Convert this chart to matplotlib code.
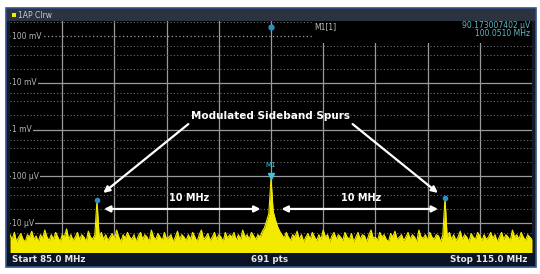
import numpy as np
import matplotlib
matplotlib.use("Agg")
import matplotlib.pyplot as plt
from matplotlib.patches import Rectangle

# %% Data
start_mhz, stop_mhz = 85.0, 115.0

# trace level in dBuV, 241 points across the span
trace_dbuv = [
    15, 13, 16, 12, 14, 15.5, 13, 12, 15, 14, 16.5, 13, 14.5, 12, 15, 13.5, 17, 14, 12.5, 15,
    13, 16, 14, 12, 15, 14, 17.5, 13, 15, 12.5, 14, 16, 13, 15, 14, 12, 16.5, 14, 13, 15,
    29.8,
    14, 16, 13, 15, 12.5, 14, 15.5, 13, 17, 14, 12, 15, 13.5, 16, 14, 13, 15, 12, 14.5,
    16, 13, 15, 14, 12, 17, 14, 13, 15.5, 14, 12.5, 16, 13, 14, 15, 12, 14, 16.5, 13, 15,
    14, 12.5, 15, 13, 16, 14, 12, 15, 17, 13, 14, 15.5, 12.5, 14, 16, 13, 15, 14, 12, 16,
    13.5, 15, 14, 16, 12.5, 15, 13, 17, 14, 15, 13, 16, 14.5, 13, 15, 14,
    16.5, 18, 21, 24, 39.1, 25, 21.5, 18.5, 16.5,
    15, 13.5, 16, 14, 12.5, 15, 14, 16.5, 13, 15, 12, 14, 15.5, 13, 16,
    14, 12.5, 15, 13, 17, 14, 15, 12, 14.5, 16, 13, 15, 14, 12.5, 16, 14, 13, 15.5, 12, 14,
    16, 13, 15, 14.5, 12, 15, 17, 13.5, 14, 12.5, 16, 14, 15, 13, 12, 15.5, 14, 16.5, 13, 14,
    15, 12.5, 14, 16, 13, 15, 14, 12, 17, 14, 13.5, 15, 12.5, 16, 14, 13, 15, 14.5, 12, 15,
    30.7,
    14, 16, 13, 15, 12.5, 14, 16.5, 13, 15, 14, 12, 15.5, 14, 13, 16, 14.5, 12.5, 15, 13, 14,
    16, 13.5, 15, 12, 14, 16, 13, 15, 14, 12.5, 17, 14, 15, 13, 16, 14, 12.5, 15, 14, 13,
]

decade_ticks = [1e-5, 1e-4, 1e-3, 1e-2, 1e-1]
decade_labels = ["10 \u00b5V", "100 \u00b5V", "1 mV", "10 mV", "100 mV"]
spur_mhz = [90.0, 110.0]
m1_mhz = 100.0
m1_text = ["90.173007402 \u00b5V", "100.0510 MHz"]

freq = np.linspace(start_mhz, stop_mhz, len(trace_dbuv))
trace_v = 1e-6 * 10 ** (np.array(trace_dbuv) / 20)
spur_v = np.interp(spur_mhz, freq, trace_v)
m1_v = np.interp(m1_mhz, freq, trace_v)

YELLOW = "#f3ea00"
GRID = "#9a9a9a"
MARK = "#2f8fc0"
CYAN = "#5fb8c8"

# %% Figure + instrument frame
fig = plt.figure(figsize=(5.4, 2.74), dpi=100)
fig.patch.set_facecolor("white")

bg = fig.add_axes([0, 0, 1, 1])
bg.set_xlim(0, 540)
bg.set_ylim(274, 0)
bg.axis("off")
bg.add_patch(Rectangle((6, 8), 530, 259, facecolor="#121a26", edgecolor="#34558a", lw=1.2))
bg.add_patch(Rectangle((7, 9), 528, 12, facecolor="#2b3340", edgecolor="none"))
bg.add_patch(Rectangle((7, 252), 528, 14, facecolor="#0b1424", edgecolor="none"))
bg.add_patch(Rectangle((12, 12.5), 4, 4, facecolor=YELLOW, edgecolor="none"))
bg.text(18, 15, "1AP Clrw", color="#c8c8c8", fontsize=5.5, va="center", ha="left")
bg.text(12, 259.5, "Start 85.0 MHz", color="#e6e6e6", fontsize=6.3, fontweight="bold",
        va="center", ha="left")
bg.text(270, 259.5, "691 pts", color="#e6e6e6", fontsize=6.3, fontweight="bold",
        va="center", ha="center")
bg.text(527, 259.5, "Stop 115.0 MHz", color="#e6e6e6", fontsize=6.3, fontweight="bold",
        va="center", ha="right")

# %% Spectrum axes
ax = fig.add_axes([10 / 540, 22 / 274, 522 / 540, 231 / 274])
ax.set_facecolor("black")
ax.set_yscale("log")
ax.set_xlim(start_mhz, stop_mhz)
ax.set_ylim(2.4e-6, 0.2096)
for s in ax.spines.values():
    s.set_visible(False)
ax.set_xticks([])
ax.set_yticks([])
ax.minorticks_off()

for f in np.linspace(start_mhz, stop_mhz, 11)[1:-1]:
    ax.axvline(f, color=GRID, lw=0.9, zorder=1)
for d in [1e-6] + decade_ticks:
    for m in (2, 4, 6):
        ax.axhline(d * m, color="#6e6e6e", lw=0.8, ls=(0, (1, 2)), zorder=1)
for d, lab in zip(decade_ticks, decade_labels):
    ls = (0, (1, 2)) if d == 1e-1 else "-"
    ax.axhline(d, color=GRID, lw=0.9, ls=ls, zorder=1)
    ax.text(0.004, d, lab, transform=ax.get_yaxis_transform(), color="#b4b4b4",
            fontsize=5.5, va="center", ha="left", zorder=2,
            bbox=dict(facecolor="black", edgecolor="none", pad=0.6))

# readout box over the grid (top right)
ax.add_patch(Rectangle((0.58, 0.905), 0.42, 0.1, transform=ax.transAxes,
                       facecolor="black", edgecolor="none", zorder=1.5))
ax.text(0.583, 0.975, "M1[1]", transform=ax.transAxes, color="#c0c0c0",
        fontsize=5.5, va="center", ha="left", zorder=2)
ax.text(0.997, 0.98, m1_text[0], transform=ax.transAxes, color=CYAN,
        fontsize=5.5, va="center", ha="right", zorder=2)
ax.text(0.997, 0.945, m1_text[1], transform=ax.transAxes, color=CYAN,
        fontsize=5.5, va="center", ha="right", zorder=2)

# trace
ax.fill_between(freq, trace_v, 1e-9, color=YELLOW, lw=0, zorder=3)
ax.plot(freq, trace_v, color=YELLOW, lw=0.8, zorder=3)

# markers
ax.plot(spur_mhz, spur_v, "o", ms=3, color=MARK, zorder=5)
ax.plot([m1_mhz], [0.156], "o", ms=3.5, color=MARK, zorder=5)
ax.plot([m1_mhz], [m1_v * 1.13], marker="v", ms=5, color="#3cc4dc", zorder=5, ls="none")
ax.text(m1_mhz, 1.74e-4, "M1", color="#3cc4dc", fontsize=5, ha="center", va="center", zorder=5)

# %% Annotations
ax.text(100.0, 1.95e-3, "Modulated Sideband Spurs", color="white", fontsize=7.5,
        fontweight="bold", ha="center", va="center", zorder=6)
arrow = dict(arrowstyle="-|>", color="white", lw=1.6, mutation_scale=9, shrinkA=0, shrinkB=0)
ax.annotate("", xy=(90.36, 4.4e-5), xytext=(95.25, 1.31e-3), arrowprops=arrow, zorder=6)
ax.annotate("", xy=(109.59, 4.4e-5), xytext=(104.69, 1.31e-3), arrowprops=arrow, zorder=6)

darrow = dict(arrowstyle="<|-|>", color="white", lw=1.6, mutation_scale=9, shrinkA=0, shrinkB=0)
ax.annotate("", xy=(90.4, 2.0e-5), xytext=(99.4, 2.0e-5), arrowprops=darrow, zorder=6)
ax.annotate("", xy=(100.6, 2.0e-5), xytext=(109.6, 2.0e-5), arrowprops=darrow, zorder=6)
ax.text(95.3, 3.43e-5, "10 MHz", color="white", fontsize=7, fontweight="bold",
        ha="center", va="center", zorder=6)
ax.text(105.2, 3.43e-5, "10 MHz", color="white", fontsize=7, fontweight="bold",
        ha="center", va="center", zorder=6)

fig.savefig("out.png", dpi=100)
